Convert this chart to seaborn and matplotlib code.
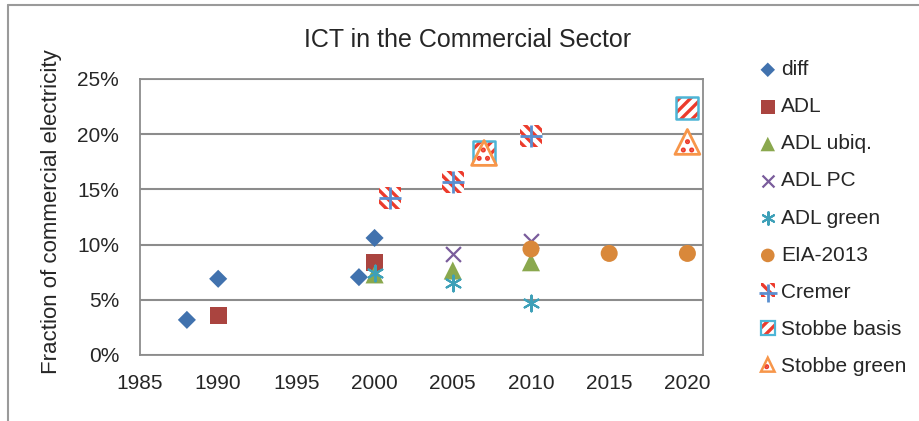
import matplotlib
matplotlib.use("Agg")
import matplotlib.pyplot as plt
from matplotlib.lines import Line2D
from matplotlib.patches import Rectangle, Polygon
from matplotlib.ticker import PercentFormatter
from matplotlib.legend_handler import HandlerTuple, HandlerPatch
import seaborn as sns

# data (fraction of commercial electricity)
diff_years = [1988, 1990, 1999, 2000]
diff_vals = [0.0318, 0.069, 0.0705, 0.106]
adl_years = [1990, 2000]
adl_vals = [0.0356, 0.0836]
adl_ubiq_years = [2000, 2005, 2010]
adl_ubiq_vals = [0.073, 0.0765, 0.084]
adl_pc_years = [2005, 2010]
adl_pc_vals = [0.0915, 0.103]
adl_green_years = [2000, 2005, 2010]
adl_green_vals = [0.074, 0.065, 0.047]
eia_years = [2010, 2015, 2020]
eia_vals = [0.096, 0.092, 0.092]
cremer_years = [2001, 2005, 2010]
cremer_vals = [0.142, 0.157, 0.198]
stobbe_basis_years = [2007, 2020]
stobbe_basis_vals = [0.184, 0.224]
stobbe_green_years = [2007, 2020]
stobbe_green_vals = [0.183, 0.193]

x_ticks = [1985, 1990, 1995, 2000, 2005, 2010, 2015, 2020]
y_ticks = [0, 0.05, 0.10, 0.15, 0.20, 0.25]

sns.set_style("white")
plt.rcParams['font.family'] = ['Liberation Sans', 'DejaVu Sans']
# seaborn forces a white patch edge, which would also turn the hatches white
plt.rcParams['patch.force_edgecolor'] = False
plt.rcParams['hatch.color'] = '#EC3B2C'
plt.rcParams['hatch.linewidth'] = 2.4
txt = '#262626'
grey = '#8c8c8c'
cyan = '#4DB5D6'
orange = '#F7964A'

fig = plt.figure(figsize=(9.19, 4.21), dpi=100)
ax = fig.add_axes([0.1523, 0.1568, 0.6127, 0.6556])

handles = []

def add(xs, ys, **kw):
    sns.scatterplot(x=xs, y=ys, ax=ax, legend=False, zorder=3, **kw)
    return ax.collections[-1]

handles.append(add(diff_years, diff_vals, marker='D', s=85, color='#4172AE', edgecolor='none'))
handles.append(add(adl_years, adl_vals, marker='s', s=150, color='#AA443F', edgecolor='none'))
handles.append(add(adl_ubiq_years, adl_ubiq_vals, marker='^', s=170, color='#8AA84E', edgecolor='none'))
handles.append(add(adl_pc_years, adl_pc_vals, marker='x', s=115, color='#7A5C9C', linewidth=1.6))
handles.append(add(adl_green_years, adl_green_vals, marker=(6, 2, 0), s=130, color='#3EA0B8', linewidth=1.5))
handles.append(add(eia_years, eia_vals, marker='o', s=150, color='#D9883A', edgecolor='none'))

# hatched markers: red hatch layer first, coloured outline / cross on top
add(cremer_years, cremer_vals, marker='s', s=250, color='white', edgecolor='none', hatch='\\\\\\')
cr_plus = add(cremer_years, cremer_vals, marker='+', s=250, color='#5A8FD0', linewidth=2.0)
add(stobbe_basis_years, stobbe_basis_vals, marker='s', s=250, color='white',
    edgecolor='none', hatch='///')
add(stobbe_basis_years, stobbe_basis_vals, marker='s', s=250, facecolor='none',
    edgecolor=cyan, linewidth=1.8)
add(stobbe_green_years, stobbe_green_vals, marker='^', s=320, color='white',
    edgecolor='none', hatch='..')
add(stobbe_green_years, stobbe_green_vals, marker='^', s=320, facecolor='none',
    edgecolor=orange, linewidth=2.0)

# legend proxies for the hatched ones
def tri(legend, orig_handle, xdescent, ydescent, width, height, fontsize):
    x0, y0 = -xdescent, -ydescent
    return Polygon([[x0 + width / 2, y0 + height], [x0, y0], [x0 + width, y0]])

cr_fill = Rectangle((0, 0), 1, 1, facecolor='white', hatch='\\\\\\')
sb_fill = Rectangle((0, 0), 1, 1, facecolor='white', hatch='///')
sb_edge = Rectangle((0, 0), 1, 1, facecolor='none', edgecolor=cyan, linewidth=1.6)
sg_fill = Polygon([[0, 0], [1, 0], [0.5, 1]], facecolor='white', hatch='..')
sg_edge = Polygon([[0, 0], [1, 0], [0.5, 1]], facecolor='none', edgecolor=orange, linewidth=1.8)
handles += [(cr_fill, cr_plus), (sb_fill, sb_edge), (sg_fill, sg_edge)]

labels = ['diff', 'ADL', 'ADL ubiq.', 'ADL PC', 'ADL green', 'EIA-2013',
          'Cremer', 'Stobbe basis', 'Stobbe green']

ax.set_xlim(1985, 2021)
ax.set_ylim(0, 0.25)
ax.set_xticks(x_ticks)
ax.set_yticks(y_ticks)
ax.yaxis.set_major_formatter(PercentFormatter(1.0, decimals=0))
ax.tick_params(length=0, labelsize=15, colors=txt)
ax.tick_params(axis='x', pad=14)
ax.tick_params(axis='y', pad=15)
ax.grid(axis='y', color=grey, linewidth=1.5)
ax.set_axisbelow(True)
for sp in ax.spines.values():
    sp.set_color(grey)
    sp.set_linewidth(1.3)
ax.set_xlabel('')
ax.set_ylabel('')

fig.text(468 / 919, 1 - 47 / 421, 'ICT in the Commercial Sector', ha='center', va='baseline',
         fontsize=18, color=txt)
fig.text(52 / 919, 1 - 211.5 / 421, 'Fraction of commercial electricity', rotation=90,
         ha='center', va='center', fontsize=16, color=txt)

fig.legend(handles, labels, loc='upper left', bbox_to_anchor=(761 / 919, 1 - 60 / 421),
           frameon=False, fontsize=15, markerscale=0.8, handlelength=0.65, handleheight=0.65,
           handletextpad=0.3, labelspacing=0.87, borderpad=0, borderaxespad=0,
           scatterpoints=1, labelcolor=txt,
           handler_map={tuple: HandlerTuple(ndivide=1),
                        sg_fill: HandlerPatch(patch_func=tri),
                        sg_edge: HandlerPatch(patch_func=tri)})

# outer chart border (only top and left edges show in the crop)
fig.add_artist(Line2D([8 / 919, 8 / 919], [0, 1 - 5 / 421], color='#9a9a9a', lw=1.5,
                      transform=fig.transFigure))
fig.add_artist(Line2D([8 / 919, 1], [1 - 5 / 421, 1 - 5 / 421], color='#9a9a9a', lw=1.5,
                      transform=fig.transFigure))

fig.savefig('out.png', dpi=100)
